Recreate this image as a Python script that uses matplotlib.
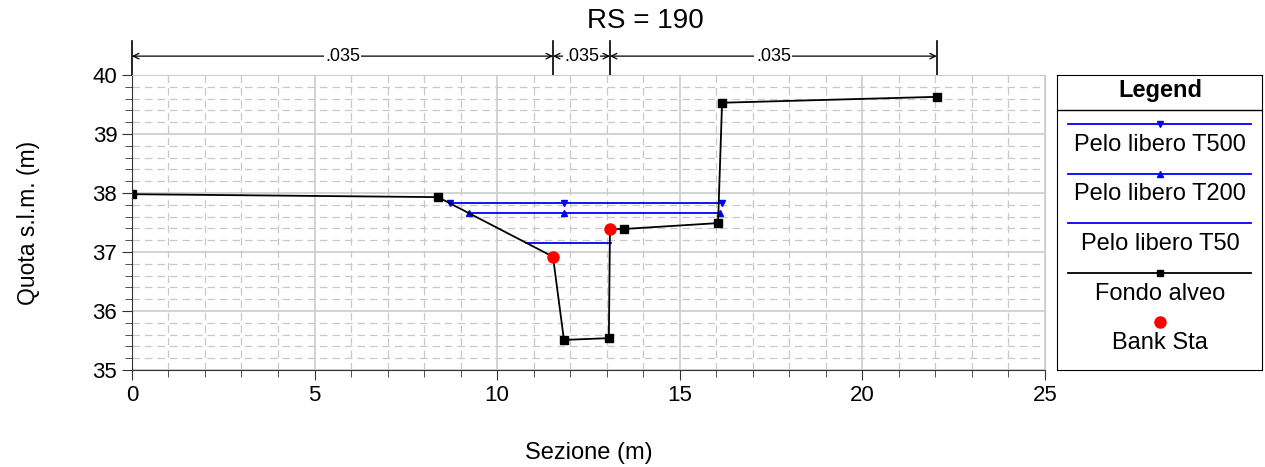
import matplotlib.pyplot as plt
from matplotlib.ticker import MultipleLocator

plt.rcParams['font.family'] = ['Liberation Sans', 'DejaVu Sans']

# ground profile (Fondo alveo)
fondo_x = [0.0, 8.38, 11.53, 11.83, 13.06, 13.09, 13.47, 16.05, 16.16, 22.04]
fondo_y = [37.98, 37.93, 36.92, 35.51, 35.54, 37.39, 37.39, 37.49, 39.53, 39.63]
fondo_mk = [0, 1, 3, 4, 6, 7, 8, 9]

# water surfaces
t500_x = [8.71, 11.83, 16.16]
t500_y = [37.83, 37.83, 37.83]
t200_x = [9.23, 11.83, 16.10]
t200_y = [37.66, 37.66, 37.66]
t50_x = [10.79, 13.11]
t50_y = [37.15, 37.15]

# bank stations
bank_x = [11.53, 13.09]
bank_y = [36.92, 37.39]

# manning n reaches
n_edges = [0.0, 11.53, 13.09, 22.04]
n_vals = ['.035', '.035', '.035']

fig = plt.figure(figsize=(12.65, 4.67), dpi=100)
ax = fig.add_axes([0.1043, 0.2077, 0.7217, 0.6317])

ax.set_xlim(0, 25)
ax.set_ylim(35, 40)
ax.xaxis.set_major_locator(MultipleLocator(5))
ax.xaxis.set_minor_locator(MultipleLocator(1))
ax.yaxis.set_major_locator(MultipleLocator(1))
ax.yaxis.set_minor_locator(MultipleLocator(0.2))
ax.grid(which='major', color='#cccccc', lw=1.2)
ax.grid(which='minor', color='#c8c8c8', lw=0.9, ls=(0, (6, 4)))
ax.set_axisbelow(True)
for s in ['top', 'right']:
    ax.spines[s].set_color('#cccccc')
for s in ['left', 'bottom']:
    ax.spines[s].set_color('#333333')
ax.tick_params(which='major', length=7, labelsize=16, color='#333333')
ax.tick_params(which='minor', length=5, color='#333333')

ax.plot(t500_x, t500_y, color='blue', lw=1.3, marker='v', ms=5)
ax.plot(t200_x, t200_y, color='blue', lw=1.3, marker='^', ms=5)
ax.plot(t50_x, t50_y, color='blue', lw=1.3)
ax.plot(fondo_x, fondo_y, color='black', lw=1.3, marker='s', ms=5.5,
        markevery=fondo_mk)
ax.plot(bank_x, bank_y, ls='none', marker='o', color='red', ms=8)

ax.set_xlabel('Sezione (m)', fontsize=17, labelpad=26)
ax.set_ylabel('Quota s.l.m. (m)', fontsize=16.5, labelpad=38)

# n value dimension lines above plot
for xe in n_edges:
    ax.plot([xe, xe], [40, 40.57], color='black', lw=1.2, clip_on=False)
for i in range(len(n_vals)):
    a, b = n_edges[i], n_edges[i + 1]
    ax.annotate('', xy=(a, 40.32), xytext=(b, 40.32), annotation_clip=False,
                arrowprops=dict(arrowstyle='<->', lw=0.9, color='black',
                                shrinkA=0, shrinkB=0))
    ax.text((a + b) / 2, 40.32, n_vals[i], ha='center', va='center',
            fontsize=13, clip_on=False,
            bbox=dict(facecolor='white', edgecolor='none', pad=1))

fig.text(645 / 1265, 1 - 21 / 467, 'RS = 190', ha='center',
         va='center', fontsize=20)

# legend box
lg = fig.add_axes([1057 / 1265, 97 / 467, 205 / 1265, 295 / 467])
lg.set_xlim(1057, 1262)
lg.set_ylim(370, 75)
lg.set_xticks([])
lg.set_yticks([])
for s in lg.spines.values():
    s.set_color('black')
lg.text(1160, 90, 'Legend', ha='center', va='center', fontsize=17,
        fontweight='bold')
lg.plot([1057, 1262], [110, 110], color='black', lw=1)
entries = [
    ('Pelo libero T500', 'blue', 'v', '-'),
    ('Pelo libero T200', 'blue', '^', '-'),
    ('Pelo libero T50', 'blue', None, '-'),
    ('Fondo alveo', 'black', 's', '-'),
    ('Bank Sta', 'red', 'o', 'none'),
]
for i, (lab, col, mk, ls) in enumerate(entries):
    yl = 124 + i * 49.5
    lg.plot([1068, 1251], [yl, yl], color=col, lw=1.3, ls=ls)
    if mk:
        lg.plot([1160], [yl], color=col, marker=mk,
                ms=8 if mk == 'o' else 5)
    lg.text(1160, yl + 21, lab, ha='center', va='center', fontsize=17)

fig.savefig('out.png', dpi=100)
